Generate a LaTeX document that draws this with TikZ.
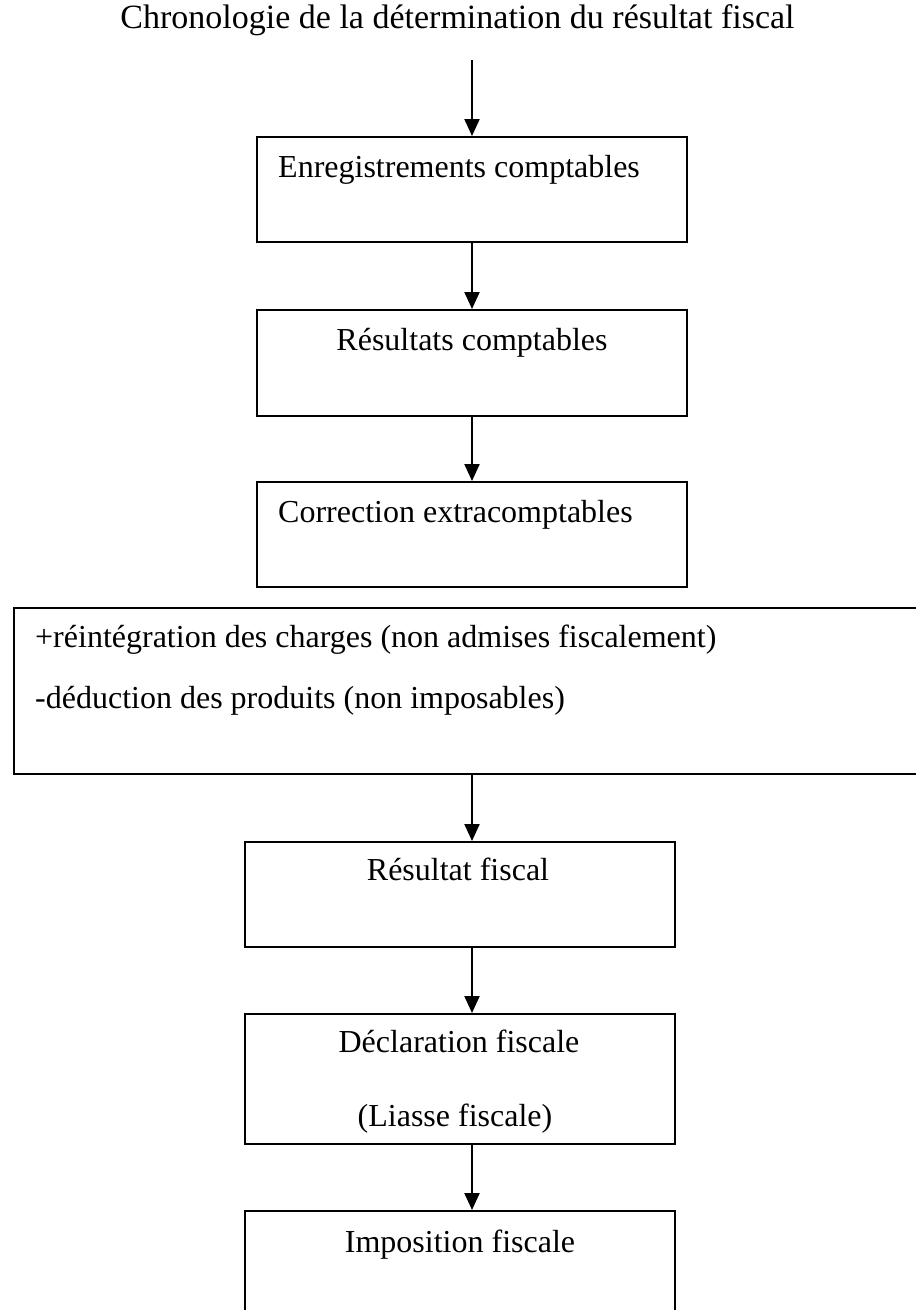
\documentclass[tikz,border=0pt]{standalone}
\usepackage{fontspec}
\setmainfont{Liberation Serif}
\usetikzlibrary{arrows.meta}
\tikzset{
  stage/.style={draw, line width=2.2pt, minimum width=430pt, anchor=north west, inner sep=0pt},
  lbl/.style={font=\fontsize{32}{38}\selectfont, inner sep=0pt, anchor=base},
  lblw/.style={lbl, anchor=base west},
  flow/.style={line width=2.2pt, -{Triangle[length=17pt,width=15pt]}},
}
\begin{document}
\begin{tikzpicture}[x=1pt,y=-1pt]
\useasboundingbox (0,0) rectangle (916,1310);

% title and entry arrow
\node[lbl, font=\fontsize{34}{40}\selectfont] (title) at (457.5,28) {Chronologie de la détermination du résultat fiscal};
\coordinate (start) at (472,60);

% upper chain of boxes
\node[stage, minimum height=105pt] (b1) at (256,136) {};
\node[lblw] (t1) at (278,177) {Enregistrements comptables};
\node[stage, minimum height=106pt] (b2) at (256,309) {};
\node[lbl] (t2) at (472,350) {Résultats comptables};
\node[stage, minimum height=105pt] (b3) at (256,481) {};
\node[lblw] (t3) at (278,522) {Correction extracomptables};

% wide correction box, running off the right edge
\node[stage, minimum width=920pt, minimum height=166pt] (big) at (13,607) {};
\node[lblw] (c1) at (35,647) {+réintégration des charges (non admises fiscalement)};
\node[lblw] (c2) at (35,708) {-déduction des produits (non imposables)};

% lower chain of boxes
\node[stage, minimum height=105pt] (b4) at (244,841) {};
\node[lbl] (t4) at (458,880) {Résultat fiscal};
\node[stage, minimum height=130pt] (b5) at (244,1013) {};
\node[lbl] (t5a) at (459,1052) {Déclaration fiscale};
\node[lbl] (t5b) at (455,1126) {(Liasse fiscale)};
\node[stage, minimum height=130pt] (b6) at (244,1210) {};
\node[lbl] (t6) at (460,1252) {Imposition fiscale};

% connectors
\draw[flow] (start) -- (start |- b1.north);
\draw[flow] (b1.south -| start) -- (b2.north -| start);
\draw[flow] (b2.south -| start) -- (b3.north -| start);
\draw[flow] (big.south -| start) -- (b4.north -| start);
\draw[flow] (b4.south -| start) -- (b5.north -| start);
\draw[flow] (b5.south -| start) -- (b6.north -| start);
\end{tikzpicture}
\end{document}
